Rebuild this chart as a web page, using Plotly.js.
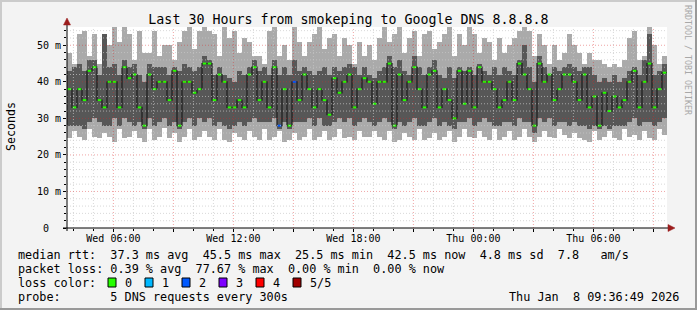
<!DOCTYPE html>
<html><head><meta charset="utf-8">
<script src="https://cdn.plot.ly/plotly-3.0.1.min.js"></script>
<style>html,body{margin:0;padding:0;background:#f3f3f3;}#chart{width:697px;height:310px;}</style>
</head><body><div id="chart"></div>
<script>
// ---- data (milliseconds), one value per 15-minute step, 120 steps over 30 hours ----
const startHour = 3.68;   // hours after Wed 00:00
const stepHours = 0.25;
const tickHours  = [6, 9, 12, 15, 18, 21, 24, 27, 30, 33];
const tickLabels = ["Wed 06:00", "", "Wed 12:00", "", "Wed 18:00", "", "Thu 00:00", "", "Thu 06:00", ""];
const yTickVals  = [0, 10, 20, 30, 40, 50];
const yTickText  = ["0\u00a0\u00a0", "10\u00a0m", "20\u00a0m", "30\u00a0m", "40\u00a0m", "50\u00a0m"];

const hi = [
 48,45,53,54,47,53,45,53,50,55,51,55,53,46,54,48,48,54,47,50,
 50,46,51,54,55,49,54,55,54,53,47,55,52,54,48,52,51,47,47,45,
 54,55,47,50,46,55,51,47,51,53,55,49,52,53,47,52,50,45,51,47,
 50,46,52,55,51,53,55,48,52,54,47,53,54,49,51,53,55,47,53,50,
 55,53,48,52,51,46,52,48,50,52,54,55,54,47,53,50,45,50,46,48,
 53,50,48,45,48,46,46,45,44,45,44,46,52,54,46,47,55,50,45,47];
const q3 = [
 43,44,45,43,46,46,42,53,44,45,42,46,44,45,42,40,45,44,44,44,
 42,44,43,45,44,43,44,47,46,42,44,42,41,40,43,42,44,46,43,44,
 42,46,42,44,42,46,43,44,43,42,43,44,42,44,43,44,45,44,42,44,
 42,41,43,44,47,44,46,43,42,47,44,42,44,46,42,41,44,41,44,43,
 44,42,45,43,42,44,42,44,43,42,46,50,44,40,47,44,42,44,43,44,
 45,44,43,44,44,42,40,41,40,42,40,41,43,44,42,46,53,42,43,45];
const med = [
 38,33,38,35,43,44,35,33,40,40,33,44,41,42,33,28,42,38,40,40,
 35,43,28,40,40,37,38,45,45,35,42,40,33,33,35,33,42,44,35,40,
 33,44,28,38,28,40,35,42,38,33,38,35,31,41,37,40,42,33,38,41,
 40,34,40,40,45,28,42,35,40,44,38,33,42,43,33,38,35,30,43,34,
 43,33,44,40,40,38,33,35,40,35,45,42,38,28,45,40,42,35,38,42,
 42,40,35,42,33,36,28,37,32,36,33,35,40,43,33,40,45,33,38,42.5];
const q1 = [
 28,28,28,27,29,30,29,28,28,30,28,30,29,28,29,27,30,28,29,30,
 28,29,27,29,30,28,30,29,30,28,29,28,27,28,29,28,29,30,29,29,
 29,30,27,29,27,29,29,29,30,28,30,28,28,29,30,29,30,28,29,30,
 29,28,29,30,29,27,29,28,29,30,28,28,29,30,28,29,28,27,29,29,
 30,28,29,30,29,28,28,29,29,28,30,29,29,26,30,29,30,28,29,29,
 28,29,28,28,27,28,27,28,27,28,28,28,29,30,28,29,29,28,29,30];
const lo = [
 24.5,26.5,25,24,27,25,24.5,26,25,23.5,27,24.5,25,26.5,24.5,23.5,27,24,25,27.5,
 24.5,26,23.5,25,27,24,25,26.5,25,24,27,24,23.5,26,25,24,26.5,25,24,27,
 24,25,26.5,23.5,24,26,24,25,27,24,25,26.5,24,25,27,24.5,25,24,26.5,25,
 25,26.5,25,24,26.5,23.5,24,26,25,24,27,24,24.5,26,24,25,26.5,23.5,25,27,
 25,24.5,26.5,25,24,27,24,25,26.5,24,25,27,25,23.5,25,26.5,25,24.5,27,25.5,
 24.5,26,24.5,24,23.5,26.5,24,25,26.5,24.5,24,27,25,25.5,24,26.5,24.5,24,27,25.5];
const lossSteps  = [42, 45];
const lossLevels = [2, 2];

const lossNames  = ["0", "1", "2", "3", "4", "5/5"];
const lossColors = ["#26ff00", "#00b8ff", "#0059ff", "#7e00ff", "#ff0000", "#a10000"];

const legendRows = [
 "median rtt:  37.3 ms avg  45.5 ms max  25.5 ms min  42.5 ms now  4.8 ms sd  7.8   am/s",
 "packet loss: 0.39 % avg  77.67 % max  0.00 % min  0.00 % now",
 "loss color:",
 "probe:       5 DNS requests every 300s"];
const dateText = "Thu Jan  8 09:36:49 2026";

// ---- helpers ----
const PL = 67, PW = 600, PB = 228, PH = 201;
const px = v => (v - PL) / PW;
const py = v => (PB - v) / PH;
const nb = s => s.replace(/ /g, "\u00a0");
const MONO = "DejaVu Sans Mono";

const n = med.length;
const centers = med.map((_, i) => startHour + stepHours * (i + 0.5));
const edges = med.map((_, i) => startHour + stepHours * i).concat([startHour + stepHours * n]);
const medStep = med.concat([med[n - 1]]);
const loss = med.map(() => 0);
lossSteps.forEach((s, k) => { loss[s] = lossLevels[k]; });

const traces = [
 {type: "bar", x: centers, base: lo, y: hi.map((h, i) => h - lo[i]), width: stepHours,
  marker: {color: "#aaaaaa", line: {width: 0}}, hoverinfo: "skip"},
 {type: "bar", x: centers, base: q1, y: q3.map((h, i) => h - q1[i]), width: stepHours,
  marker: {color: "#575757", line: {width: 0}}, hoverinfo: "skip"},
 {type: "scatter", mode: "lines", x: edges, y: medStep, line: {shape: "hv", color: "#1c1c1c", width: 1.2},
  hoverinfo: "skip"},
 {type: "scatter", mode: "markers", x: centers, y: med,
  marker: {symbol: "line-ew", size: 2.6, line: {width: 2, color: loss.map(l => lossColors[l])}},
  hoverinfo: "skip"}
];

const shapes = [];
// grid above the smoke
for (let h = Math.ceil(startHour); h < startHour + 30; h++) {
  const major = h % 3 === 0;
  shapes.push({type: "line", xref: "x", yref: "paper", x0: h, x1: h, y0: 0, y1: 1, layer: "above",
    line: {color: major ? "rgba(220,40,40,0.42)" : "rgba(200,200,200,0.7)", width: 1, dash: "1px,2px"}});
}
for (let v = 2; v <= 54; v += 2) {
  const major = v % 10 === 0;
  shapes.push({type: "line", xref: "paper", yref: "y", x0: 0, x1: 1, y0: v, y1: v, layer: "above",
    line: {color: major ? "rgba(220,40,40,0.42)" : "rgba(200,200,200,0.7)", width: 1, dash: "1px,2px"}});
}
// axes lines and arrows
shapes.push({type: "line", xref: "paper", yref: "paper", x0: px(63), x1: px(669), y0: 0, y1: 0, layer: "above",
  line: {color: "#000", width: 1}});
shapes.push({type: "line", xref: "paper", yref: "paper", x0: 0, x1: 0, y0: py(231), y1: py(24), layer: "above",
  line: {color: "#000", width: 1}});
shapes.push({type: "path", xref: "paper", yref: "paper", layer: "above",
  path: `M${px(668)},${py(224.5)} L${px(675)},${py(228)} L${px(668)},${py(231.5)} Z`,
  fillcolor: "#9b1c1c", line: {color: "#9b1c1c", width: 0.5}});
shapes.push({type: "path", xref: "paper", yref: "paper", layer: "above",
  path: `M${px(63.5)},${py(25)} L${px(67)},${py(18)} L${px(70.5)},${py(25)} Z`,
  fillcolor: "#9b1c1c", line: {color: "#9b1c1c", width: 0.5}});
// image border shading
shapes.push({type: "rect", xref: "paper", yref: "paper", x0: px(0), x1: px(2), y0: py(0), y1: py(310), fillcolor: "#cbcbcb", line: {width: 0}});
shapes.push({type: "rect", xref: "paper", yref: "paper", x0: px(0), x1: px(697), y0: py(0), y1: py(2), fillcolor: "#cbcbcb", line: {width: 0}});
shapes.push({type: "rect", xref: "paper", yref: "paper", x0: px(695), x1: px(697), y0: py(0), y1: py(310), fillcolor: "#999999", line: {width: 0}});
shapes.push({type: "rect", xref: "paper", yref: "paper", x0: px(0), x1: px(697), y0: py(308), y1: py(310), fillcolor: "#999999", line: {width: 0}});

const rowY = [255, 269, 283, 297];
const annotations = [];
legendRows.forEach((t, i) => annotations.push({text: nb(t), xref: "paper", yref: "paper", x: px(16), y: py(rowY[i]),
  xanchor: "left", yanchor: "middle", showarrow: false, font: {family: MONO, size: 11.8, color: "#000"}}));
annotations.push({text: nb(dateText), xref: "paper", yref: "paper", x: px(681), y: py(rowY[3]),
  xanchor: "right", yanchor: "middle", showarrow: false, font: {family: MONO, size: 11.8, color: "#000"}});
lossNames.forEach((nm, i) => {
  const bx = 108 + 37 * i;
  shapes.push({type: "rect", xref: "paper", yref: "paper", x0: px(bx), x1: px(bx + 8), y0: py(rowY[2] - 5), y1: py(rowY[2] + 4),
    fillcolor: lossColors[i], line: {color: "#000", width: 1}});
  annotations.push({text: nb(nm), xref: "paper", yref: "paper", x: px(bx + 15), y: py(rowY[2]),
    xanchor: "left", yanchor: "middle", showarrow: false, font: {family: MONO, size: 11.8, color: "#000"}});
});
annotations.push({text: "Seconds", xref: "paper", yref: "paper", x: px(11), y: py(127), textangle: -90,
  xanchor: "center", yanchor: "middle", showarrow: false, font: {family: MONO, size: 11.6, color: "#000"}});
annotations.push({text: nb("RRDTOOL / TOBI OETIKER"), xref: "paper", yref: "paper", x: px(688), y: py(60), textangle: 90,
  xanchor: "center", yanchor: "middle", showarrow: false, font: {family: MONO, size: 8.3, color: "#a8a8a8"}});

const layout = {
  width: 697, height: 310,
  margin: {l: 67, r: 30, t: 27, b: 82, pad: 0},
  paper_bgcolor: "#f3f3f3", plot_bgcolor: "#ffffff",
  showlegend: false, barmode: "overlay", bargap: 0, hovermode: false,
  title: {text: "Last 30 Hours from smokeping to Google DNS 8.8.8.8", x: 0.5, xref: "container", xanchor: "center",
    y: 1 - 19 / 310, yref: "container", yanchor: "middle", font: {family: MONO, size: 13.3, color: "#000"}},
  xaxis: {range: [startHour, startHour + 30], tickmode: "array", tickvals: tickHours, ticktext: tickLabels,
    showgrid: false, zeroline: false, showline: false, ticks: "outside", ticklen: 3, tickcolor: "#000",
    ticklabelstandoff: -2,
    tickfont: {family: MONO, size: 10, color: "#000"},
    minor: {tickmode: "linear", tick0: 0, dtick: 1, ticks: "outside", ticklen: 2, tickcolor: "#000", showgrid: false}},
  yaxis: {range: [0, 55], tickmode: "array", tickvals: yTickVals, ticktext: yTickText,
    showgrid: false, zeroline: false, showline: false, ticks: "outside", ticklen: 3, tickcolor: "#000",
    tickfont: {family: MONO, size: 10, color: "#000"},
    minor: {tickmode: "linear", tick0: 0, dtick: 2, ticks: "outside", ticklen: 2, tickcolor: "#000", showgrid: false}},
  shapes: shapes, annotations: annotations
};
Plotly.newPlot("chart", traces, layout, {staticPlot: true, displayModeBar: false});
</script></body></html>
